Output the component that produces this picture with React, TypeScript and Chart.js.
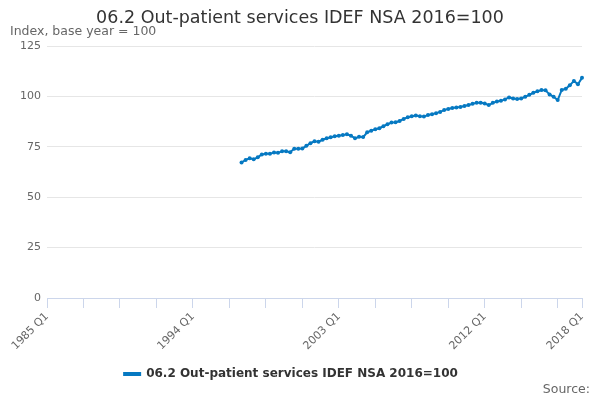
import { useEffect, useRef } from "react"
import { Chart, registerables } from "chart.js"

Chart.register(...registerables)

const TITLE = "06.2 Out-patient services IDEF NSA 2016=100"
const SERIES_NAME = "06.2 Out-patient services IDEF NSA 2016=100"
const FIRST_YEAR = 1985
const LAST_YEAR = 2018
const DATA_START = "1997 Q1"

// quarterly categories, 1985 Q1 .. 2018 Q1
const quarterLabels: string[] = []
for (let y = FIRST_YEAR; y <= LAST_YEAR; y++) {
  for (let q = 1; q <= 4; q++) {
    if (y === LAST_YEAR && q > 1) break
    quarterLabels.push(`${y} Q${q}`)
  }
}

// index values from 1997 Q1 to 2018 Q1
const indexValues = [
  67.2, 68.5, 69.3, 68.8,
  69.8, 71.2, 71.5, 71.5,
  72.2, 72.0, 72.8, 72.8,
  72.3, 74.0, 74.0, 74.2,
  75.5, 76.8, 77.7, 77.5,
  78.5, 79.2, 79.7, 80.2,
  80.5, 80.8, 81.2, 80.5,
  79.2, 80.0, 79.8, 82.2,
  83.0, 83.7, 84.2, 85.2,
  86.2, 87.0, 87.2, 87.8,
  88.8, 89.7, 90.2, 90.5,
  90.2, 90.0, 90.8, 91.2,
  91.7, 92.3, 93.2, 93.8,
  94.2, 94.5, 94.7, 95.2,
  95.7, 96.3, 96.8, 96.8,
  96.5, 95.7, 96.8, 97.5,
  97.8, 98.5, 99.5, 99.0,
  98.7, 99.0, 99.8, 100.8,
  101.8, 102.5, 103.2, 103.0,
  101.0, 99.8, 98.2, 103.2,
  103.8, 105.5, 107.7, 106.0,
  109.2,
]

const yTicks = [0, 25, 50, 75, 100, 125]

// tick marks every 9 quarters, labels every 36 quarters (plus the last one)
const TICK_STEP = 9
const LABEL_STEP = 36

const FONT = "'DejaVu Sans', sans-serif"
const LINE_COLOR = "#0679c2"

const textPlugin = {
  id: "texts",
  afterDraw(chart: Chart) {
    const ctx = chart.ctx
    ctx.save()
    ctx.textBaseline = "middle"
    ctx.fillStyle = "#333333"
    ctx.font = `17.5px ${FONT}`
    ctx.textAlign = "center"
    ctx.fillText(TITLE, chart.width / 2, 18)
    ctx.fillStyle = "#666666"
    ctx.font = `12.5px ${FONT}`
    ctx.textAlign = "left"
    ctx.fillText("Index, base year = 100", 10, 32)
    ctx.textAlign = "right"
    ctx.fillText("Source:", 590, 390)
    ctx.restore()
  },
}

export default function App() {
  const chartRef = useRef<HTMLCanvasElement>(null)
  const chartInstance = useRef<Chart | null>(null)

  useEffect(() => {
    document.body.style.margin = "0"
    if (!chartRef.current) return
    if (chartInstance.current) chartInstance.current.destroy()

    const offset = quarterLabels.indexOf(DATA_START)
    const data = quarterLabels.map((_, i) =>
      i >= offset && i - offset < indexValues.length ? indexValues[i - offset] : null
    )
    const last = quarterLabels.length - 1

    const ctx = chartRef.current.getContext("2d")
    if (!ctx) return

    chartInstance.current = new Chart(ctx, {
      type: "line",
      data: {
        labels: quarterLabels,
        datasets: [
          {
            label: SERIES_NAME,
            data,
            borderColor: LINE_COLOR,
            backgroundColor: LINE_COLOR,
            borderWidth: 2,
            pointRadius: 2,
            pointHoverRadius: 3,
            pointBackgroundColor: LINE_COLOR,
            pointBorderWidth: 0,
            tension: 0,
            spanGaps: false,
          },
        ],
      },
      options: {
        responsive: false,
        animation: false,
        layout: { padding: { top: 46, right: 18, bottom: 10, left: 0 } },
        scales: {
          x: {
            type: "category",
            offset: false,
            afterFit: (scale) => {
              scale.height = 60
            },
            grid: {
              drawOnChartArea: false,
              drawTicks: true,
              tickLength: 10,
              tickColor: (c) =>
                c.index % TICK_STEP === 0 || c.index === last ? "#ccd6eb" : "rgba(0,0,0,0)",
            },
            border: { display: true, color: "#ccd6eb" },
            ticks: {
              autoSkip: false,
              minRotation: 45,
              maxRotation: 45,
              padding: 2,
              color: "#666666",
              font: { family: FONT, size: 11 },
              callback: (_v, index) =>
                index % LABEL_STEP === 0 || index === last ? quarterLabels[index] : "",
            },
          },
          y: {
            min: 0,
            max: 125,
            afterFit: (scale) => {
              scale.width = 47
            },
            afterBuildTicks: (scale) => {
              scale.ticks = yTicks.map((v) => ({ value: v }))
            },
            grid: { color: "#e6e6e6", drawTicks: false },
            border: { display: false },
            ticks: {
              padding: 6,
              color: "#666666",
              font: { family: FONT, size: 11 },
            },
          },
        },
        plugins: {
          title: { display: false },
          tooltip: { enabled: false },
          legend: {
            position: "bottom",
            labels: {
              boxWidth: 16,
              boxHeight: 2,
              padding: 10,
              color: "#333333",
              font: { family: FONT, size: 12, weight: "bold" },
            },
          },
        },
      },
      plugins: [textPlugin],
    })

    return () => {
      if (chartInstance.current) {
        chartInstance.current.destroy()
        chartInstance.current = null
      }
    }
  }, [])

  return (
    <div style={{ width: 600, height: 400, background: "#fff" }}>
      <canvas ref={chartRef} width={600} height={400} />
    </div>
  )
}
